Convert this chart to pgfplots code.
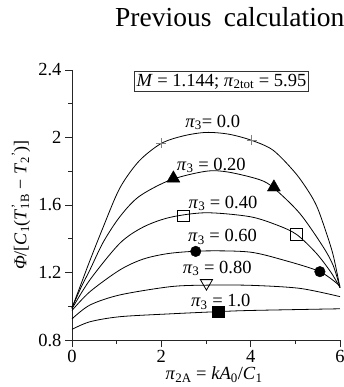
\documentclass[border=0pt]{standalone}
\usepackage{fontspec}
\setmainfont{Liberation Serif}
\usepackage{pgfplots}
\pgfplotsset{compat=1.18}
\begin{document}
\begin{tikzpicture}[x=1pt,y=1pt]
\begin{axis}[
  at={(72pt,47pt)}, anchor=south west,
  scale only axis, width=268pt, height=270pt,
  xmin=0, xmax=6, ymin=0.8, ymax=2.4,
  axis x line=bottom, axis y line=left,
  axis line style={-, line width=0.8pt, black!85},
  xtick={0,2,4,6}, minor xtick={1,3,5},
  ytick={0.8,1.2,1.6,2,2.4}, minor ytick={1,1.4,1.8,2.2},
  tick align=outside,
  major tick length=7pt, minor tick length=4pt,
  every tick/.style={black!85, line width=0.8pt},
  tick label style={font=\fontsize{18.5}{21}\selectfont},
  /pgf/number format/assume math mode=true,
  clip=false,
  xlabel={\textit{π}\textsubscript{2A} = \textit{kA}\textsubscript{0}/\textit{C}\textsubscript{1}},
  xlabel style={font=\fontsize{18.5}{21}\selectfont, at={(axis description cs:0.53,-0.146)}, anchor=base},
  ylabel={\textit{Φ}/[\textit{C}\textsubscript{1}(\textit{T}\makebox[0pt][l]{\textsuperscript{\kern1pt'}}\textsubscript{1B} − \textit{T}\textsubscript{2}\textsuperscript{'})]},
  ylabel style={font=\fontsize{18}{21}\selectfont, at={(axis description cs:-0.19,0.5)}, anchor=center},
]
% pi3 = 0.0
\addplot[black, line width=0.8pt, smooth] coordinates {
(0,0.99) (0.2,1.13) (0.4,1.27) (0.7,1.47) (1.07,1.70) (1.5,1.86) (2.0,1.965)
(2.5,2.01) (3.0,2.03) (3.5,2.02) (4.0,1.985) (4.5,1.925) (5.0,1.79) (5.32,1.67)
(5.5,1.58) (5.7,1.43) (5.85,1.30) (6.0,1.11)};
% pi3 = 0.20
\addplot[black, line width=0.8pt, smooth] coordinates {
(0,0.99) (0.2,1.11) (0.4,1.215) (0.7,1.38) (1.07,1.53) (1.5,1.65) (2.2,1.748)
(3.0,1.80) (3.5,1.795) (4.2,1.75) (4.52,1.70) (5.1,1.55) (5.62,1.353)
(5.85,1.24) (6.0,1.11)};
% pi3 = 0.40
\addplot[black, line width=0.8pt, smooth] coordinates {
(0,0.985) (0.4,1.156) (1.07,1.373) (1.6,1.47) (2.2,1.527) (3.0,1.554)
(3.98,1.531) (4.6,1.48) (5.03,1.425) (5.47,1.314) (5.8,1.2) (6.0,1.11)};
% pi3 = 0.60
\addplot[black, line width=0.8pt, smooth] coordinates {
(0,0.975) (0.4,1.086) (1.07,1.215) (1.6,1.28) (2.2,1.314) (3.0,1.328)
(3.98,1.321) (4.73,1.274) (5.55,1.205) (6.0,1.12)};
% pi3 = 0.80
\addplot[black, line width=0.8pt, smooth] coordinates {
(0,0.925) (0.4,1.007) (1.07,1.067) (2.2,1.116) (3.0,1.125) (4.0,1.124)
(5.1,1.106) (6.0,1.057)};
% pi3 = 1.0
\addplot[black, line width=0.8pt, smooth] coordinates {
(0,0.863) (0.4,0.908) (1.07,0.938) (2.2,0.955) (3.27,0.968) (4.0,0.975) (6.0,0.985)};
% markers
\addplot[only marks, mark=+, mark size=5pt, gray, mark options={line width=0.6pt}] coordinates {(2.0,1.967) (4.02,1.985)};
\addplot[only marks, mark=triangle*, mark size=7.5pt, black] coordinates {(2.27,1.758) (4.52,1.705)};
\addplot[only marks, mark=square, mark size=5.8pt, black, mark options={fill=white, line width=0.8pt}] coordinates {(2.5,1.535) (5.03,1.425)};
\addplot[only marks, mark=*, mark size=5.3pt, black] coordinates {(2.77,1.325) (5.55,1.205)};
\addplot[only marks, mark=triangle, mark size=7pt, black, mark options={rotate=180, fill=white, line width=0.8pt}] coordinates {(3.01,1.137)};
\addplot[only marks, mark=square*, mark size=5.7pt, black] coordinates {(3.27,0.968)};
% labels
\begin{scope}[every node/.style={font=\fontsize{18.5}{21}\selectfont, inner sep=0pt, anchor=base}]
\node at (axis cs:3.15,2.062) {\textit{π}\textsubscript{3}= 0.0};
\node at (axis cs:3.12,1.807) {\textit{π}\textsubscript{3} = 0.20};
\node at (axis cs:3.38,1.582) {\textit{π}\textsubscript{3} = 0.40};
\node at (axis cs:3.37,1.383) {\textit{π}\textsubscript{3} = 0.60};
\node at (axis cs:3.25,1.197) {\textit{π}\textsubscript{3} = 0.80};
\node at (axis cs:3.33,0.997) {\textit{π}\textsubscript{3} = 1.0};
\end{scope}
\node[draw=black!80, line width=0.8pt, inner sep=2.5pt, font=\fontsize{18.5}{21}\selectfont] at (axis cs:3.345,2.332) {\textit{M} = 1.144; \textit{π}\textsubscript{2tot} = 5.95};
\end{axis}
\node[anchor=base west, font=\fontsize{27.5}{31}\selectfont, inner sep=0pt] at (115pt,360pt) {Previous\hspace{0.45em}calculation};
\pgfresetboundingbox
\path[use as bounding box] (0,0) rectangle (344pt,387pt);
\end{tikzpicture}
\end{document}
